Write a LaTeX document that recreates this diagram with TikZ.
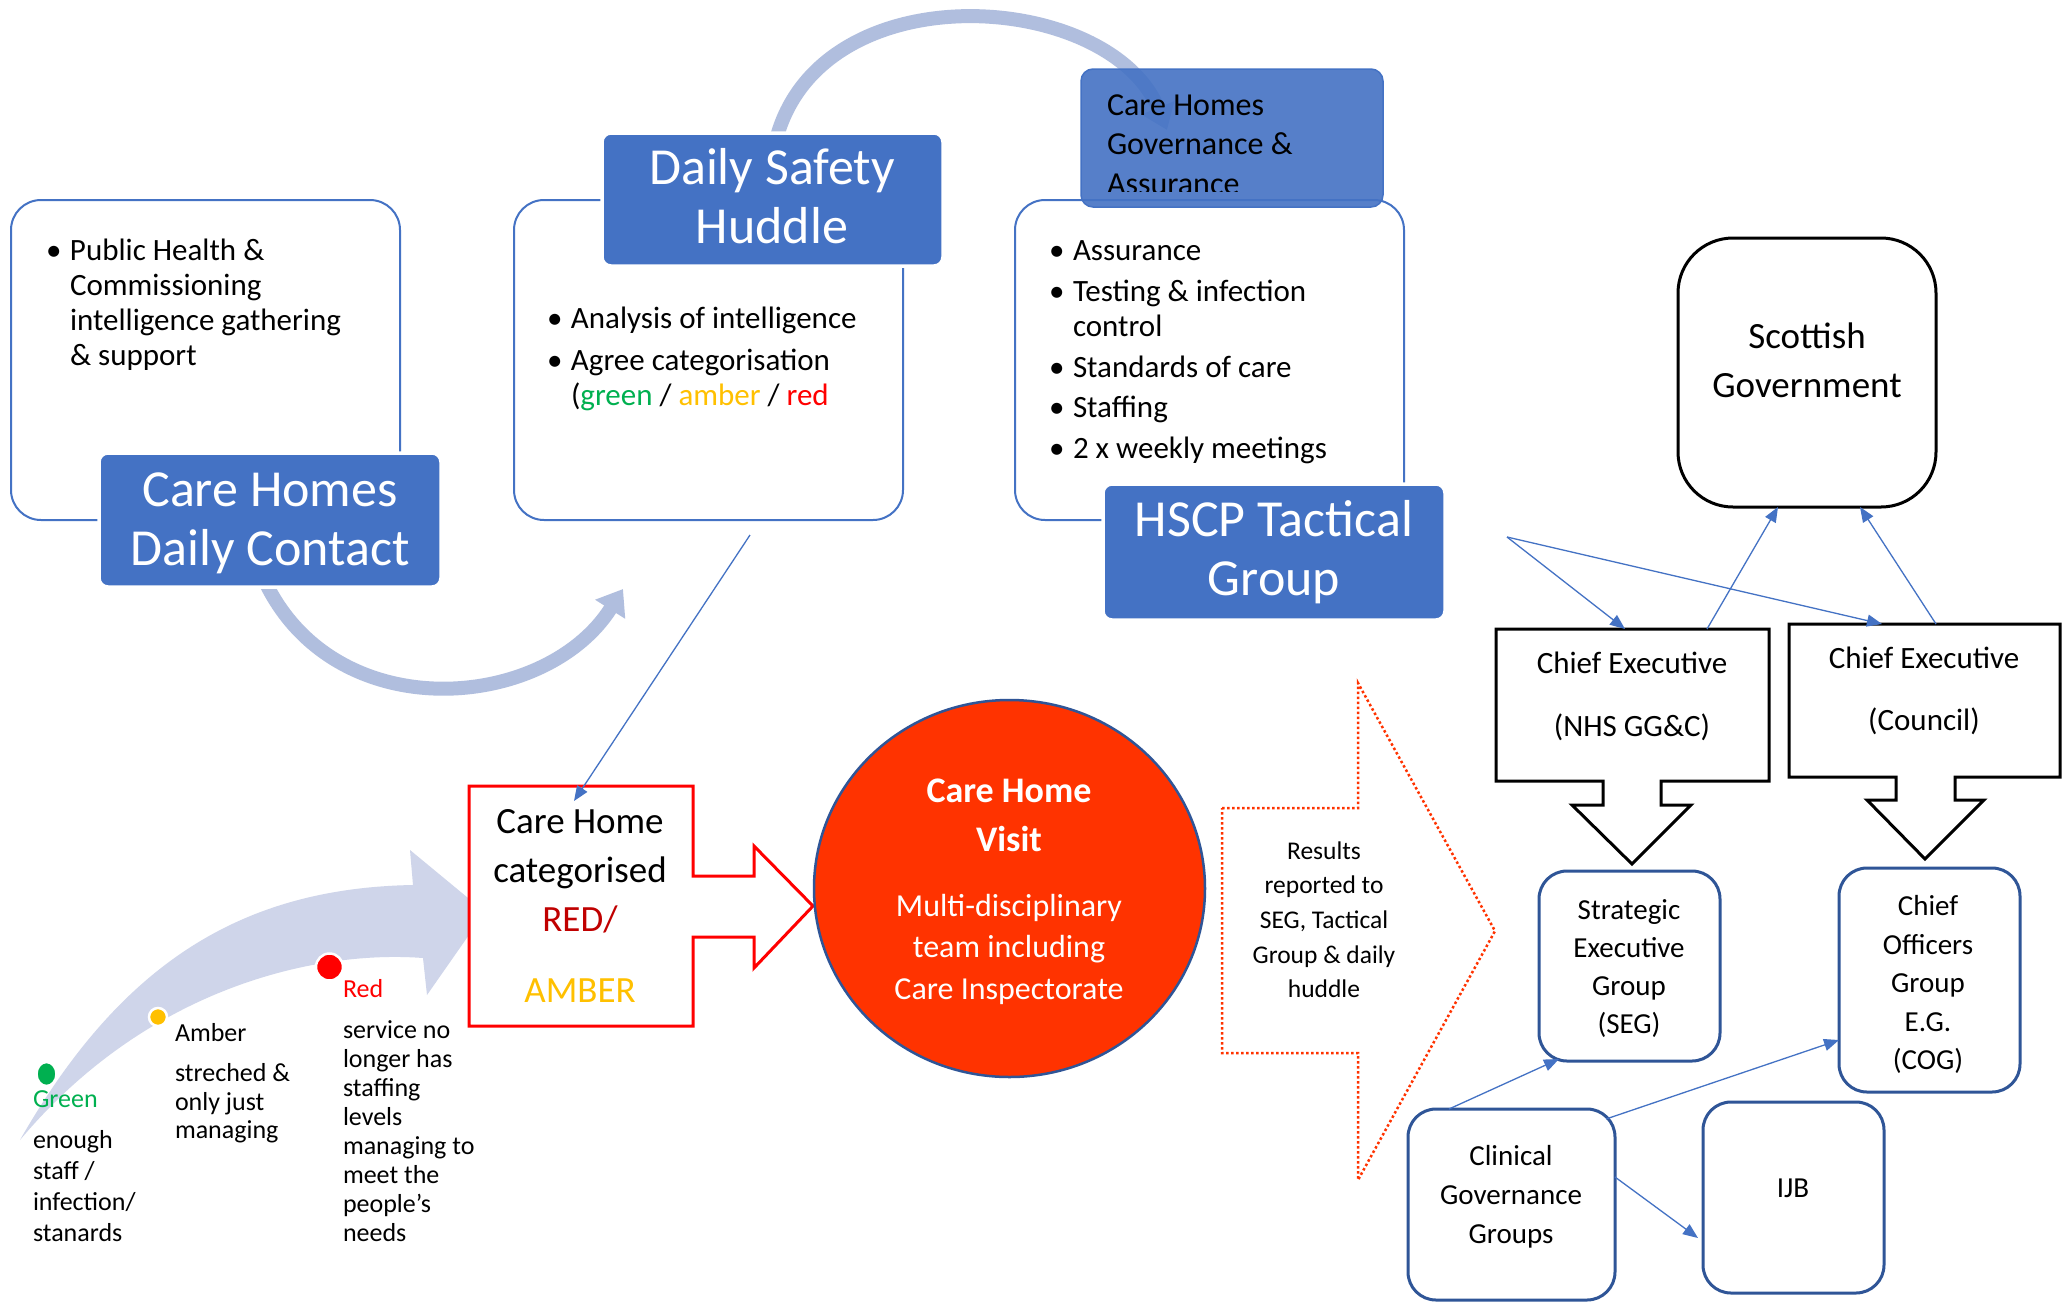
\documentclass[tikz,border=0pt]{standalone}
\usepackage{fontspec}
\setmainfont{Carlito}
\usetikzlibrary{arrows.meta,shapes.geometric,calc}
\definecolor{blu}{HTML}{4472C4}
\definecolor{arcc}{RGB}{176,190,222}
\definecolor{lav}{RGB}{207,213,234}
\definecolor{grn}{HTML}{00B050}
\definecolor{amb}{HTML}{FFC000}
\definecolor{dred}{HTML}{C00000}
\definecolor{vis}{HTML}{FF3300}
\definecolor{visb}{HTML}{2F5597}
\newcommand\bl{\makebox[24pt][l]{\textbullet}}
\newcommand\ind{\hspace*{24pt}}
\begin{document}
\begin{tikzpicture}[x=1pt,y=-1pt,
  every node/.style={inner sep=0pt, outer sep=0pt},
  outl/.style={draw=blu, line width=2pt, rounded corners=30pt, fill=white},
  lbl/.style={fill=blu, draw=white, line width=3.5pt, rounded corners=9pt},
  ttl/.style={text=white, align=center, anchor=north, font=\fontsize{52}{59}\selectfont},
  blist/.style={anchor=north west, align=left, font=\fontsize{31}{35}\selectfont},
  conn/.style={draw=blu, line width=1.3pt, -{Triangle[length=15pt,width=12pt]}},
  arcst/.style={draw=arcc, line width=14pt, -{Triangle[length=24pt,width=34pt]}},
  blk/.style={draw=black, line width=3pt, fill=white, line join=miter},
  bbox/.style={draw=visb, line width=3pt, rounded corners=28pt, fill=white},
  ctext/.style={anchor=north, align=center},
  small/.style={font=\fontsize{26}{29}\selectfont}
]
\fill[white] (0,0) rectangle (2062,1302);
\useasboundingbox (0,0) rectangle (2062,1302);

% curved arrows
\draw[arcst] (262,575) .. controls (330,730) and (545,712) .. (623,589);
\draw[arcst] (776,140) .. controls (820,-30) and (1110,-10) .. (1167,130);

% outline boxes
\node[outl, minimum width=389, minimum height=320] (boxA) at (205.5,360) {};
\node[outl, minimum width=389, minimum height=320] (boxB) at (708.5,360) {};
\node[outl, minimum width=389, minimum height=320] (boxC) at (1209.5,360) {};

% label boxes
\node[lbl, minimum width=342, minimum height=134] (dc) at (270,520) {};
\node[lbl, minimum width=341, minimum height=133] (dsh) at (772.5,199.5) {};
\node[lbl, minimum width=342, minimum height=136] (hscp) at (1274,552) {};
\node[fill=blu, fill opacity=0.9, draw=blu, line width=1.5pt, rounded corners=12pt,
      minimum width=302, minimum height=138] (gov) at (1232,138) {};

\node[ttl] (tDC) at (270,464.7) {\strut Care Homes\\\strut Daily Contact};
\node[ttl] (tDSH) at (772,142.7) {\strut Daily Safety\\\strut Huddle};
\node[ttl] (tHS) at (1274,494.7) {\strut HSCP Tactical\\\strut Group};
\begin{scope}
\clip (1081,69) rectangle (1383,191);
\node[anchor=north west, align=left, font=\fontsize{32}{39.5}\selectfont] (tGov) at (1107,87.4)
  {\strut Care Homes\\\strut Governance \&\\\strut Assurance};
\end{scope}

% bullet lists
\node[blist] (tA) at (46,235.5) {\strut\bl Public Health \&\\\strut\ind Commissioning\\\strut\ind intelligence gathering\\\strut\ind \& support};
\node[blist] (tB) at (547,303.5) {\strut\bl Analysis of intelligence\\[7pt]\strut\bl Agree categorisation\\\strut\ind (\textcolor{grn}{green} / \textcolor{amb}{amber} / \textcolor{red}{red}};
\node[blist] (tC) at (1049,235.5) {\strut\bl Assurance\\[6pt]\strut\bl Testing \& infection\\\strut\ind control\\[6pt]\strut\bl Standards of care\\[5pt]\strut\bl Staffing\\[6pt]\strut\bl 2 x weekly meetings};

% big lavender arrow
\fill[lav] (20,1140) .. controls (120,965) and (240,888) .. (413,885) -- (410,850) -- (485,912)
  -- (427,995) -- (423,958) .. controls (320,950) and (150,985) .. (20,1140) -- cycle;
\node[ellipse, fill=grn, draw=white, line width=1.5pt, minimum width=19, minimum height=23] (dG) at (46.5,1074) {};
\node[circle, fill=amb, draw=white, line width=2.5pt, minimum size=18] (dA) at (158,1017) {};
\node[circle, fill=red, draw=white, line width=2.5pt, minimum size=27] (dR) at (329.5,967) {};

\node[small, anchor=base west, text=grn] (lG) at (33,1107) {Green};
\node[anchor=north west, align=left, font=\fontsize{26}{31}\selectfont] (lGd) at (33,1126.3) {\strut enough\\\strut staff /\\\strut infection/\\\strut stanards};
\node[small, anchor=base west] (lA) at (175,1041) {Amber};
\node[anchor=north west, align=left, font=\fontsize{26}{28.5}\selectfont] (lAd) at (175,1062) {\strut streched \&\\\strut only just\\\strut managing};
\node[small, anchor=base west, text=red] (lR) at (343,997) {Red};
\node[anchor=north west, align=left, font=\fontsize{26}{29}\selectfont] (lRd) at (343,1017.7) {\strut service no\\\strut longer has\\\strut staffing\\\strut levels\\\strut managing to\\\strut meet the\\\strut people's\\\strut needs};

% categorised callout
\node[minimum width=224, minimum height=240] (cat) at (581,906) {};
\draw[draw=red, line width=3pt, fill=white, line join=miter] (469,786) -- (693,786) -- (693,876) -- (754,876) -- (754,846) -- (813,906)
  -- (754,968) -- (754,937) -- (693,937) -- (693,1026) -- (469,1026) -- cycle;
\node[ctext, font=\fontsize{37}{49}\selectfont] (tCat) at (580,798.7)
  {\strut Care Home\\\strut categorised\\\strut\textcolor{dred}{RED/}\\[22pt]\strut\textcolor{amb}{AMBER}};
\coordinate (hl) at (750,535);
\draw[conn] (hl) -- ([xshift=-7pt,yshift=-15pt]cat.north);

% visit circle
\node[ellipse, fill=vis, draw=visb, line width=2.5pt, minimum width=391, minimum height=377] (visit) at (1009.5,888.5) {};
\node[ctext, text=white, font=\bfseries\fontsize{36}{49}\selectfont] (tV1) at (1009,767.7) {\strut Care Home\\\strut Visit};
\node[ctext, text=white, font=\fontsize{32}{41.5}\selectfont] (tV2) at (1009,887) {\strut Multi-disciplinary\\\strut team including\\\strut Care Inspectorate};

% results dotted arrow
\draw[draw=vis, line width=2.5pt, dash pattern=on 2.5pt off 2.5pt] (1222,808) -- (1358,808) -- (1358,683) -- (1495,931)
  -- (1358,1180) -- (1358,1053) -- (1222,1053) -- cycle;
\node[ctext, font=\fontsize{25.5}{34.7}\selectfont] (tRes) at (1324,834.7) {\strut Results\\\strut reported to\\\strut SEG, Tactical\\\strut Group \& daily\\\strut huddle};

% right side
\node[blk, rounded corners=55pt, minimum width=258, minimum height=269] (sg) at (1807,372.5) {};
\node[ctext, font=\fontsize{37}{49}\selectfont] (tSG) at (1807,313.7) {\strut Scottish\\\strut Government};

\node[minimum width=273, minimum height=152] (ce1) at (1632.5,705) {};
\node[minimum width=271, minimum height=153] (ce2) at (1924.5,700.5) {};
\draw[blk] (1496,629) -- (1769,629) -- (1769,781) -- (1661,781) -- (1661,805) -- (1691,805) -- (1632,864)
  -- (1572,805) -- (1603,805) -- (1603,781) -- (1496,781) -- cycle;
\draw[blk] (1789,624) -- (2060,624) -- (2060,777) -- (1955,777) -- (1955,800) -- (1984,800) -- (1925,859)
  -- (1867,800) -- (1896,800) -- (1896,777) -- (1789,777) -- cycle;
\node[ctext, font=\fontsize{31}{63}\selectfont] (tCE1) at (1632,628.9) {\strut Chief Executive\\\strut (NHS GG\&C)};
\node[ctext, font=\fontsize{31}{62}\selectfont] (tCE2) at (1924,624.6) {\strut Chief Executive\\\strut (Council)};

\node[bbox, minimum width=181, minimum height=190] (seg) at (1629.5,966) {};
\node[bbox, minimum width=181, minimum height=224] (cog) at (1929.5,980) {};
\node[bbox, minimum width=207, minimum height=191] (cg) at (1511.5,1204.5) {};
\node[bbox, minimum width=181, minimum height=191] (ijb) at (1793.5,1197.5) {};
\node[ctext, font=\fontsize{29}{38.3}\selectfont] (tSEG) at (1629,892.2) {\strut Strategic\\\strut Executive\\\strut Group\\\strut (SEG)};
\node[ctext, font=\fontsize{29}{38.5}\selectfont] (tCOG) at (1928,889) {\strut Chief\\\strut Officers\\\strut Group\\\strut E.G.\\\strut (COG)};
\node[ctext, font=\fontsize{29}{39}\selectfont] (tCG) at (1511,1137.7) {\strut Clinical\\\strut Governance\\\strut Groups};
\node[anchor=base, font=\fontsize{29}{35}\selectfont] (tIJB) at (1793,1197) {IJB};

% connectors
\coordinate (tac) at (1507,537);
\draw[conn] (tac) -- ([xshift=-7.5pt]ce1.north);
\draw[conn] (tac) -- ([xshift=-42.5pt]ce2.north);
\draw[conn] ([xshift=74.5pt]ce1.north) -- ([xshift=-29pt]sg.south);
\draw[conn] ([xshift=11.5pt]ce2.north) -- ([xshift=53pt]sg.south);
\draw[conn] ([xshift=-62.5pt]cg.north) -- ([xshift=20pt,yshift=2pt]seg.south west);
\draw[conn] ([xshift=-9pt,yshift=-10pt]cg.north east) -- ([yshift=-60pt]cog.west);
\draw[conn] ([yshift=27.5pt]cg.east) -- ([xshift=-5pt,yshift=-40.5pt]ijb.west);
\end{tikzpicture}
\end{document}
